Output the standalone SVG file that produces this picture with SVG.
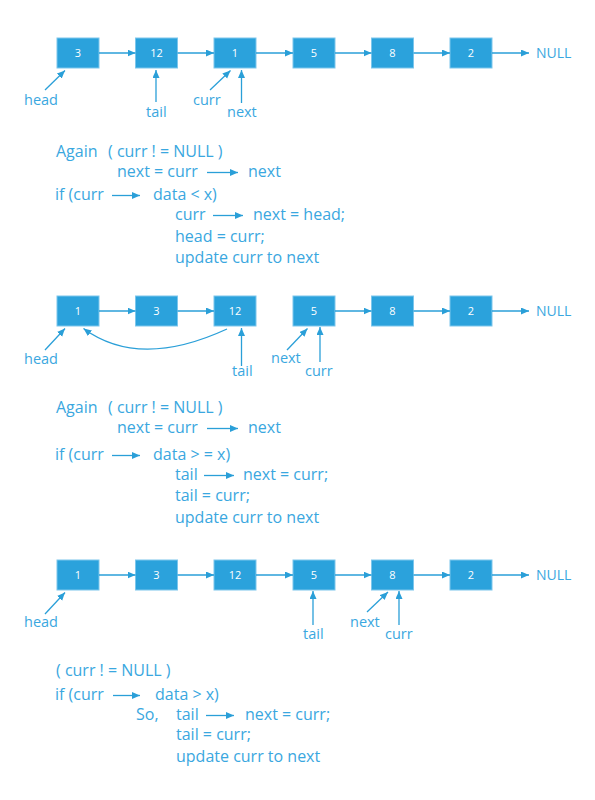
<svg xmlns="http://www.w3.org/2000/svg" width="595" height="800" viewBox="0 0 595 800">
<defs>
<marker id="ah" markerUnits="userSpaceOnUse" markerWidth="9" markerHeight="8" refX="8" refY="3.5" orient="auto"><path d="M0,0 L8,3.5 L0,7 z" fill="#2a9fd8"/></marker>
<style>
.box rect{fill:#2ba2dc;stroke:#7cc6ec;stroke-width:1}
.box text{fill:#fff;font-family:"Open Sans",sans-serif;font-size:11px;text-anchor:middle}
.c line,.c path{stroke:#2a9fd8;stroke-width:1.3;fill:none;marker-end:url(#ah)}
.lbl{fill:#3aa7e0;font-family:"Open Sans",sans-serif;font-size:14.5px}
.code{fill:#3aa7e0;font-family:"Open Sans",sans-serif;font-size:16px}
</style>
</defs>
<rect width="595" height="800" fill="#fff"/>

<!-- Row 1 -->
<g id="r1n1" class="box"><rect x="57" y="38" width="42" height="30"/><text x="78" y="57">3</text></g>
<g id="r1n2" class="box"><rect x="135.5" y="38" width="42" height="30"/><text x="156.5" y="57">12</text></g>
<g id="r1n3" class="box"><rect x="214" y="38" width="42" height="30"/><text x="235" y="57">1</text></g>
<g id="r1n4" class="box"><rect x="293" y="38" width="42" height="30"/><text x="314" y="57">5</text></g>
<g id="r1n5" class="box"><rect x="371.5" y="38" width="42" height="30"/><text x="392.5" y="57">8</text></g>
<g id="r1n6" class="box"><rect x="450" y="38" width="42" height="30"/><text x="471" y="57">2</text></g>
<text class="lbl" x="536" y="58" style="font-size:14px">NULL</text>
<text class="lbl" x="24" y="105">head</text>
<text class="lbl" x="146" y="117">tail</text>
<text class="lbl" x="193" y="105">curr</text>
<text class="lbl" x="227" y="117">next</text>

<!-- Row 2 -->
<g id="r2n1" class="box"><rect x="57" y="296" width="42" height="30"/><text x="78" y="315">1</text></g>
<g id="r2n2" class="box"><rect x="135.5" y="296" width="42" height="30"/><text x="156.5" y="315">3</text></g>
<g id="r2n3" class="box"><rect x="214" y="296" width="42" height="30"/><text x="235" y="315">12</text></g>
<g id="r2n4" class="box"><rect x="293" y="296" width="42" height="30"/><text x="314" y="315">5</text></g>
<g id="r2n5" class="box"><rect x="371.5" y="296" width="42" height="30"/><text x="392.5" y="315">8</text></g>
<g id="r2n6" class="box"><rect x="450" y="296" width="42" height="30"/><text x="471" y="315">2</text></g>
<text class="lbl" x="536" y="316" style="font-size:14px">NULL</text>
<text class="lbl" x="24" y="364">head</text>
<text class="lbl" x="232" y="376">tail</text>
<text class="lbl" x="271" y="363">next</text>
<text class="lbl" x="305" y="376">curr</text>

<!-- Row 3 -->
<g id="r3n1" class="box"><rect x="57" y="560" width="42" height="30"/><text x="78" y="579">1</text></g>
<g id="r3n2" class="box"><rect x="135.5" y="560" width="42" height="30"/><text x="156.5" y="579">3</text></g>
<g id="r3n3" class="box"><rect x="214" y="560" width="42" height="30"/><text x="235" y="579">12</text></g>
<g id="r3n4" class="box"><rect x="293" y="560" width="42" height="30"/><text x="314" y="579">5</text></g>
<g id="r3n5" class="box"><rect x="371.5" y="560" width="42" height="30"/><text x="392.5" y="579">8</text></g>
<g id="r3n6" class="box"><rect x="450" y="560" width="42" height="30"/><text x="471" y="579">2</text></g>
<text class="lbl" x="536" y="580" style="font-size:14px">NULL</text>
<text class="lbl" x="24" y="627">head</text>
<text class="lbl" x="303" y="639">tail</text>
<text class="lbl" x="350" y="627">next</text>
<text class="lbl" x="385" y="639">curr</text>

<!-- Connectors -->
<g id="connectors" class="c">
<line x1="99" y1="53" x2="135.5" y2="53"/>
<line x1="177.5" y1="53" x2="214" y2="53"/>
<line x1="256" y1="53" x2="293" y2="53"/>
<line x1="335" y1="53" x2="371.5" y2="53"/>
<line x1="413.5" y1="53" x2="450" y2="53"/>
<line x1="492" y1="53" x2="529" y2="53"/>
<line x1="45" y1="90" x2="65" y2="70.5"/>
<line x1="156" y1="102" x2="156" y2="70"/>
<line x1="210" y1="90" x2="230.5" y2="70.5"/>
<line x1="241.5" y1="103" x2="241.5" y2="70"/>

<line x1="99" y1="311" x2="135.5" y2="311"/>
<line x1="177.5" y1="311" x2="214" y2="311"/>
<line x1="335" y1="311" x2="371.5" y2="311"/>
<line x1="413.5" y1="311" x2="450" y2="311"/>
<line x1="492" y1="311" x2="529" y2="311"/>
<path d="M227,329 Q139,369.5 83.5,328.5"/>
<line x1="45" y1="350" x2="65" y2="328.5"/>
<line x1="241.5" y1="366" x2="241.5" y2="328"/>
<line x1="287" y1="350" x2="307.5" y2="328.5"/>
<line x1="320" y1="362" x2="320" y2="327"/>

<line x1="99" y1="575" x2="135.5" y2="575"/>
<line x1="177.5" y1="575" x2="214" y2="575"/>
<line x1="256" y1="575" x2="293" y2="575"/>
<line x1="335" y1="575" x2="371.5" y2="575"/>
<line x1="413.5" y1="575" x2="450" y2="575"/>
<line x1="492" y1="575" x2="529" y2="575"/>
<line x1="45" y1="614" x2="65" y2="592.5"/>
<line x1="313" y1="625" x2="313" y2="591"/>
<line x1="367" y1="612" x2="388" y2="592"/>
<line x1="399" y1="625" x2="399" y2="591"/>

<line x1="207" y1="172.5" x2="238" y2="172.5"/>
<line x1="112" y1="195.5" x2="140" y2="195.5"/>
<line x1="213" y1="215.5" x2="243" y2="215.5"/>
<line x1="207" y1="428.5" x2="238" y2="428.5"/>
<line x1="112" y1="455.5" x2="140" y2="455.5"/>
<line x1="204" y1="475.5" x2="234" y2="475.5"/>
<line x1="113" y1="695.5" x2="140" y2="695.5"/>
<line x1="206" y1="715.5" x2="234" y2="715.5"/>
</g>

<!-- Code 1 -->
<g id="code1" class="code">
<text x="56" y="157">Again</text><text x="108" y="157">( curr ! = NULL )</text>
<text x="117" y="177">next = curr</text><text x="248" y="177">next</text>
<text x="55" y="200">if (curr</text><text x="153" y="200">data &lt; x)</text>
<text x="175" y="220">curr</text><text x="253" y="220">next = head;</text>
<text x="175" y="241.5">head = curr;</text>
<text x="175" y="263">update curr to next</text>
</g>
<!-- Code 2 -->
<g id="code2" class="code">
<text x="56" y="413">Again</text><text x="108" y="413">( curr ! = NULL )</text>
<text x="117" y="433">next = curr</text><text x="248" y="433">next</text>
<text x="55" y="460">if (curr</text><text x="153" y="460">data &gt; = x)</text>
<text x="175" y="480">tail</text><text x="243" y="480">next = curr;</text>
<text x="175" y="501">tail = curr;</text>
<text x="175" y="523">update curr to next</text>
</g>
<!-- Code 3 -->
<g id="code3" class="code">
<text x="56" y="676">( curr ! = NULL )</text>
<text x="55" y="700">if (curr</text><text x="155" y="700">data &gt; x)</text>
<text x="136" y="720">So,</text><text x="176" y="720">tail</text><text x="245" y="720">next = curr;</text>
<text x="176" y="740">tail = curr;</text>
<text x="176" y="762">update curr to next</text>
</g>
</svg>
